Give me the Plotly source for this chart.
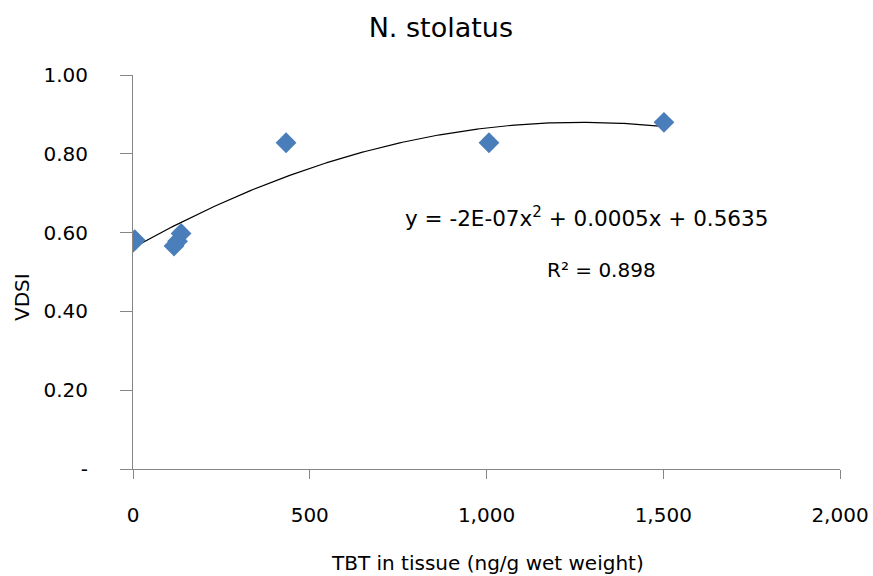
import numpy as np
import plotly.graph_objects as go

# Data (several overlapping points near zero)
tbt = [0, 0, 5, 5, 116, 126, 136, 433, 1007, 1502]
vdsi = [0.575, 0.578, 0.580, 0.582, 0.566, 0.578, 0.598, 0.828, 0.828, 0.880]

x_ticks = [0, 500, 1000, 1500, 2000]
x_ticktext = ["0", "500", "1,000", "1,500", "2,000"]
y_ticks = [0, 0.2, 0.4, 0.6, 0.8, 1.0]
y_ticktext = ["-", "0.20", "0.40", "0.60", "0.80", "1.00"]

title_text = "N. stolatus"
x_title = "TBT in tissue (ng/g wet weight)"
y_title = "VDSI"
eq_text = "y = -2E-07x<sup>2</sup> + 0.0005x + 0.5635"
r2_text = "R² = 0.898"

# Polynomial (order 2) trendline fitted from the data
coef = np.polyfit(tbt, vdsi, 2)
xs = np.linspace(min(tbt), max(tbt), 200)
ys = np.polyval(coef, xs)

FONT = "DejaVu Sans"
AXC = "#868686"

fig = go.Figure()
fig.add_trace(go.Scatter(x=xs, y=ys, mode="lines",
                         line=dict(color="black", width=1.2),
                         hoverinfo="skip", showlegend=False))
fig.add_trace(go.Scatter(x=tbt, y=vdsi, mode="markers",
                         marker=dict(symbol="diamond", size=16, color="#4a7ebb",
                                     line=dict(width=0)),
                         showlegend=False))

fig.update_layout(
    width=873, height=576,
    margin=dict(l=133, r=33, t=75, b=107),
    plot_bgcolor="white", paper_bgcolor="white",
    font=dict(family=FONT, size=20, color="black"),
    title=dict(text=title_text, x=0.505, xanchor="center",
               y=1 - 28 / 576, yanchor="middle", yref="container",
               font=dict(size=27, family=FONT)),
    xaxis=dict(range=[0, 2000], tickvals=x_ticks, ticktext=x_ticktext,
               showgrid=False, zeroline=False, showline=True, linecolor=AXC,
               linewidth=1, ticks="outside", ticklen=9, tickcolor=AXC,
               ticklabelstandoff=19, tickfont=dict(size=20), automargin=False),
    yaxis=dict(range=[0, 1], tickvals=y_ticks, ticktext=y_ticktext,
               showgrid=False, zeroline=False, showline=True, linecolor=AXC,
               linewidth=1, ticks="outside", ticklen=12, tickcolor=AXC,
               ticklabelstandoff=28, tickfont=dict(size=20), automargin=False),
    annotations=[
        dict(text=x_title, xref="paper", yref="paper", x=(487 - 133) / 707,
             y=(469 - 563) / 394, xanchor="center", yanchor="middle",
             showarrow=False, font=dict(size=20)),
        dict(text=y_title, xref="paper", yref="paper", x=(22 - 133) / 707,
             y=(469 - 297) / 394, xanchor="center", yanchor="middle",
             textangle=-90, showarrow=False, font=dict(size=20)),
        dict(text=eq_text, xref="paper", yref="paper", x=(586 - 133) / 707,
             y=(469 - 217) / 394, xanchor="center", yanchor="middle",
             showarrow=False, font=dict(size=21.5)),
        dict(text=r2_text, xref="paper", yref="paper", x=(601 - 133) / 707,
             y=(469 - 270) / 394, xanchor="center", yanchor="middle",
             showarrow=False, font=dict(size=20)),
    ],
)

fig.write_html("out.html")
